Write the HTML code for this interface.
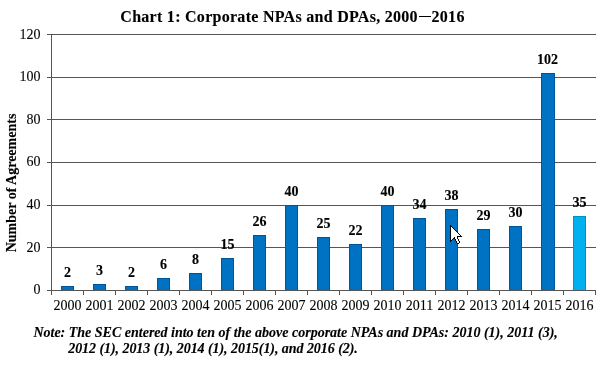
<!DOCTYPE html><html><head><meta charset="utf-8"><style>
html,body{margin:0;padding:0;background:#fff;width:600px;height:365px;overflow:hidden;position:relative}
.t{position:absolute;font-family:"Liberation Serif",serif;white-space:nowrap;line-height:14px;height:14px;color:#000;filter:grayscale(1)}
.c{width:200px;text-align:center}
.r{-webkit-text-stroke:0.1px #000}
.b{font-weight:bold;-webkit-text-stroke:0.12px #000}
svg{position:absolute;left:0;top:0}
</style></head><body>
<svg width="600" height="365" viewBox="0 0 600 365" shape-rendering="crispEdges">
<rect x="47" y="34" width="549" height="1" fill="#555555"/>
<rect x="47" y="77" width="549" height="1" fill="#555555"/>
<rect x="47" y="119" width="549" height="1" fill="#555555"/>
<rect x="47" y="162" width="549" height="1" fill="#555555"/>
<rect x="47" y="205" width="549" height="1" fill="#555555"/>
<rect x="47" y="247" width="549" height="1" fill="#555555"/>
<rect x="61" y="286" width="13" height="4" fill="#00559a"/>
<rect x="62" y="287" width="11" height="3" fill="#0072c4"/>
<rect x="93" y="284" width="13" height="6" fill="#00559a"/>
<rect x="94" y="285" width="11" height="5" fill="#0072c4"/>
<rect x="125" y="286" width="13" height="4" fill="#00559a"/>
<rect x="126" y="287" width="11" height="3" fill="#0072c4"/>
<rect x="157" y="278" width="13" height="12" fill="#00559a"/>
<rect x="158" y="279" width="11" height="11" fill="#0072c4"/>
<rect x="189" y="273" width="13" height="17" fill="#00559a"/>
<rect x="190" y="274" width="11" height="16" fill="#0072c4"/>
<rect x="221" y="258" width="13" height="32" fill="#00559a"/>
<rect x="222" y="259" width="11" height="31" fill="#0072c4"/>
<rect x="253" y="235" width="13" height="55" fill="#00559a"/>
<rect x="254" y="236" width="11" height="54" fill="#0072c4"/>
<rect x="285" y="205" width="13" height="85" fill="#00559a"/>
<rect x="286" y="206" width="11" height="84" fill="#0072c4"/>
<rect x="317" y="237" width="13" height="53" fill="#00559a"/>
<rect x="318" y="238" width="11" height="52" fill="#0072c4"/>
<rect x="349" y="244" width="13" height="46" fill="#00559a"/>
<rect x="350" y="245" width="11" height="45" fill="#0072c4"/>
<rect x="381" y="205" width="13" height="85" fill="#00559a"/>
<rect x="382" y="206" width="11" height="84" fill="#0072c4"/>
<rect x="413" y="218" width="13" height="72" fill="#00559a"/>
<rect x="414" y="219" width="11" height="71" fill="#0072c4"/>
<rect x="445" y="209" width="13" height="81" fill="#00559a"/>
<rect x="446" y="210" width="11" height="80" fill="#0072c4"/>
<rect x="477" y="229" width="13" height="61" fill="#00559a"/>
<rect x="478" y="230" width="11" height="60" fill="#0072c4"/>
<rect x="509" y="226" width="13" height="64" fill="#00559a"/>
<rect x="510" y="227" width="11" height="63" fill="#0072c4"/>
<rect x="541" y="73" width="14" height="217" fill="#00559a"/>
<rect x="542" y="74" width="12" height="216" fill="#0072c4"/>
<rect x="573" y="216" width="13" height="74" fill="#0090c8"/>
<rect x="574" y="217" width="11" height="73" fill="#00b0f0"/>
<rect x="47" y="290" width="549" height="1" fill="#555555"/>
<rect x="51" y="34" width="1" height="261" fill="#555555"/>
<rect x="83" y="291" width="1" height="4" fill="#555555"/>
<rect x="115" y="291" width="1" height="4" fill="#555555"/>
<rect x="147" y="291" width="1" height="4" fill="#555555"/>
<rect x="179" y="291" width="1" height="4" fill="#555555"/>
<rect x="211" y="291" width="1" height="4" fill="#555555"/>
<rect x="243" y="291" width="1" height="4" fill="#555555"/>
<rect x="275" y="291" width="1" height="4" fill="#555555"/>
<rect x="307" y="291" width="1" height="4" fill="#555555"/>
<rect x="339" y="291" width="1" height="4" fill="#555555"/>
<rect x="371" y="291" width="1" height="4" fill="#555555"/>
<rect x="403" y="291" width="1" height="4" fill="#555555"/>
<rect x="435" y="291" width="1" height="4" fill="#555555"/>
<rect x="467" y="291" width="1" height="4" fill="#555555"/>
<rect x="499" y="291" width="1" height="4" fill="#555555"/>
<rect x="531" y="291" width="1" height="4" fill="#555555"/>
<rect x="563" y="291" width="1" height="4" fill="#555555"/>
<rect x="595" y="291" width="1" height="4" fill="#555555"/>
<rect x="450" y="225" width="1" height="1" fill="#000"/>
<rect x="450" y="226" width="1" height="1" fill="#000"/>
<rect x="451" y="226" width="1" height="1" fill="#000"/>
<rect x="450" y="227" width="1" height="1" fill="#000"/>
<rect x="451" y="227" width="1" height="1" fill="#fff"/>
<rect x="452" y="227" width="1" height="1" fill="#000"/>
<rect x="450" y="228" width="1" height="1" fill="#000"/>
<rect x="451" y="228" width="1" height="1" fill="#fff"/>
<rect x="452" y="228" width="1" height="1" fill="#fff"/>
<rect x="453" y="228" width="1" height="1" fill="#000"/>
<rect x="450" y="229" width="1" height="1" fill="#000"/>
<rect x="451" y="229" width="1" height="1" fill="#fff"/>
<rect x="452" y="229" width="1" height="1" fill="#fff"/>
<rect x="453" y="229" width="1" height="1" fill="#fff"/>
<rect x="454" y="229" width="1" height="1" fill="#000"/>
<rect x="450" y="230" width="1" height="1" fill="#000"/>
<rect x="451" y="230" width="1" height="1" fill="#fff"/>
<rect x="452" y="230" width="1" height="1" fill="#fff"/>
<rect x="453" y="230" width="1" height="1" fill="#fff"/>
<rect x="454" y="230" width="1" height="1" fill="#fff"/>
<rect x="455" y="230" width="1" height="1" fill="#000"/>
<rect x="450" y="231" width="1" height="1" fill="#000"/>
<rect x="451" y="231" width="1" height="1" fill="#fff"/>
<rect x="452" y="231" width="1" height="1" fill="#fff"/>
<rect x="453" y="231" width="1" height="1" fill="#fff"/>
<rect x="454" y="231" width="1" height="1" fill="#fff"/>
<rect x="455" y="231" width="1" height="1" fill="#fff"/>
<rect x="456" y="231" width="1" height="1" fill="#000"/>
<rect x="450" y="232" width="1" height="1" fill="#000"/>
<rect x="451" y="232" width="1" height="1" fill="#fff"/>
<rect x="452" y="232" width="1" height="1" fill="#fff"/>
<rect x="453" y="232" width="1" height="1" fill="#fff"/>
<rect x="454" y="232" width="1" height="1" fill="#fff"/>
<rect x="455" y="232" width="1" height="1" fill="#fff"/>
<rect x="456" y="232" width="1" height="1" fill="#fff"/>
<rect x="457" y="232" width="1" height="1" fill="#000"/>
<rect x="450" y="233" width="1" height="1" fill="#000"/>
<rect x="451" y="233" width="1" height="1" fill="#fff"/>
<rect x="452" y="233" width="1" height="1" fill="#fff"/>
<rect x="453" y="233" width="1" height="1" fill="#fff"/>
<rect x="454" y="233" width="1" height="1" fill="#fff"/>
<rect x="455" y="233" width="1" height="1" fill="#fff"/>
<rect x="456" y="233" width="1" height="1" fill="#fff"/>
<rect x="457" y="233" width="1" height="1" fill="#fff"/>
<rect x="458" y="233" width="1" height="1" fill="#000"/>
<rect x="450" y="234" width="1" height="1" fill="#000"/>
<rect x="451" y="234" width="1" height="1" fill="#fff"/>
<rect x="452" y="234" width="1" height="1" fill="#fff"/>
<rect x="453" y="234" width="1" height="1" fill="#fff"/>
<rect x="454" y="234" width="1" height="1" fill="#fff"/>
<rect x="455" y="234" width="1" height="1" fill="#fff"/>
<rect x="456" y="234" width="1" height="1" fill="#fff"/>
<rect x="457" y="234" width="1" height="1" fill="#fff"/>
<rect x="458" y="234" width="1" height="1" fill="#fff"/>
<rect x="459" y="234" width="1" height="1" fill="#000"/>
<rect x="450" y="235" width="1" height="1" fill="#000"/>
<rect x="451" y="235" width="1" height="1" fill="#fff"/>
<rect x="452" y="235" width="1" height="1" fill="#fff"/>
<rect x="453" y="235" width="1" height="1" fill="#fff"/>
<rect x="454" y="235" width="1" height="1" fill="#fff"/>
<rect x="455" y="235" width="1" height="1" fill="#fff"/>
<rect x="456" y="235" width="1" height="1" fill="#fff"/>
<rect x="457" y="235" width="1" height="1" fill="#fff"/>
<rect x="458" y="235" width="1" height="1" fill="#fff"/>
<rect x="459" y="235" width="1" height="1" fill="#fff"/>
<rect x="460" y="235" width="1" height="1" fill="#000"/>
<rect x="450" y="236" width="1" height="1" fill="#000"/>
<rect x="451" y="236" width="1" height="1" fill="#fff"/>
<rect x="452" y="236" width="1" height="1" fill="#fff"/>
<rect x="453" y="236" width="1" height="1" fill="#fff"/>
<rect x="454" y="236" width="1" height="1" fill="#fff"/>
<rect x="455" y="236" width="1" height="1" fill="#fff"/>
<rect x="456" y="236" width="1" height="1" fill="#fff"/>
<rect x="457" y="236" width="1" height="1" fill="#000"/>
<rect x="458" y="236" width="1" height="1" fill="#000"/>
<rect x="459" y="236" width="1" height="1" fill="#000"/>
<rect x="460" y="236" width="1" height="1" fill="#000"/>
<rect x="461" y="236" width="1" height="1" fill="#000"/>
<rect x="450" y="237" width="1" height="1" fill="#000"/>
<rect x="451" y="237" width="1" height="1" fill="#fff"/>
<rect x="452" y="237" width="1" height="1" fill="#fff"/>
<rect x="453" y="237" width="1" height="1" fill="#fff"/>
<rect x="454" y="237" width="1" height="1" fill="#000"/>
<rect x="455" y="237" width="1" height="1" fill="#fff"/>
<rect x="456" y="237" width="1" height="1" fill="#fff"/>
<rect x="457" y="237" width="1" height="1" fill="#000"/>
<rect x="450" y="238" width="1" height="1" fill="#000"/>
<rect x="451" y="238" width="1" height="1" fill="#fff"/>
<rect x="452" y="238" width="1" height="1" fill="#fff"/>
<rect x="453" y="238" width="1" height="1" fill="#000"/>
<rect x="454" y="238" width="1" height="1" fill="#000"/>
<rect x="455" y="238" width="1" height="1" fill="#fff"/>
<rect x="456" y="238" width="1" height="1" fill="#fff"/>
<rect x="457" y="238" width="1" height="1" fill="#000"/>
<rect x="450" y="239" width="1" height="1" fill="#000"/>
<rect x="451" y="239" width="1" height="1" fill="#fff"/>
<rect x="452" y="239" width="1" height="1" fill="#000"/>
<rect x="455" y="239" width="1" height="1" fill="#000"/>
<rect x="456" y="239" width="1" height="1" fill="#fff"/>
<rect x="457" y="239" width="1" height="1" fill="#fff"/>
<rect x="458" y="239" width="1" height="1" fill="#000"/>
<rect x="450" y="240" width="1" height="1" fill="#000"/>
<rect x="451" y="240" width="1" height="1" fill="#000"/>
<rect x="455" y="240" width="1" height="1" fill="#000"/>
<rect x="456" y="240" width="1" height="1" fill="#fff"/>
<rect x="457" y="240" width="1" height="1" fill="#fff"/>
<rect x="458" y="240" width="1" height="1" fill="#000"/>
<rect x="450" y="241" width="1" height="1" fill="#000"/>
<rect x="456" y="241" width="1" height="1" fill="#000"/>
<rect x="457" y="241" width="1" height="1" fill="#fff"/>
<rect x="458" y="241" width="1" height="1" fill="#fff"/>
<rect x="459" y="241" width="1" height="1" fill="#000"/>
<rect x="456" y="242" width="1" height="1" fill="#000"/>
<rect x="457" y="242" width="1" height="1" fill="#fff"/>
<rect x="458" y="242" width="1" height="1" fill="#fff"/>
<rect x="459" y="242" width="1" height="1" fill="#000"/>
<rect x="457" y="243" width="1" height="1" fill="#000"/>
<rect x="458" y="243" width="1" height="1" fill="#000"/>
</svg>
<div class="t b" style="left:120.3px;top:10px;font-size:16px;letter-spacing:0.28px">Chart 1: Corporate NPAs and DPAs, 2000</div>
<div style="position:absolute;left:418.6px;top:15.9px;width:12.8px;height:1.2px;background:#000"></div>
<div class="t b" style="left:431.5px;top:10px;font-size:16px;letter-spacing:0.3px">2016</div>
<div class="t r" style="right:559.50px;top:283px;font-size:14px;">0</div>
<div class="t r" style="right:559.50px;top:241px;font-size:14px;">20</div>
<div class="t r" style="right:559.50px;top:198px;font-size:14px;">40</div>
<div class="t r" style="right:559.50px;top:155px;font-size:14px;">60</div>
<div class="t r" style="right:559.50px;top:113px;font-size:14px;">80</div>
<div class="t r" style="right:559.50px;top:70px;font-size:14px;">100</div>
<div class="t r" style="right:559.50px;top:28px;font-size:14px;">120</div>
<div class="t r c" style="left:-32.50px;top:299px;font-size:14px;">2000</div>
<div class="t b c" style="left:-32.50px;top:266px;font-size:14px;">2</div>
<div class="t r c" style="left:-0.50px;top:299px;font-size:14px;">2001</div>
<div class="t b c" style="left:-0.50px;top:264px;font-size:14px;">3</div>
<div class="t r c" style="left:31.50px;top:299px;font-size:14px;">2002</div>
<div class="t b c" style="left:31.50px;top:266px;font-size:14px;">2</div>
<div class="t r c" style="left:63.50px;top:299px;font-size:14px;">2003</div>
<div class="t b c" style="left:63.50px;top:258px;font-size:14px;">6</div>
<div class="t r c" style="left:95.50px;top:299px;font-size:14px;">2004</div>
<div class="t b c" style="left:95.50px;top:253px;font-size:14px;">8</div>
<div class="t r c" style="left:127.50px;top:299px;font-size:14px;">2005</div>
<div class="t b c" style="left:127.50px;top:238px;font-size:14px;">15</div>
<div class="t r c" style="left:159.50px;top:299px;font-size:14px;">2006</div>
<div class="t b c" style="left:159.50px;top:215px;font-size:14px;">26</div>
<div class="t r c" style="left:191.50px;top:299px;font-size:14px;">2007</div>
<div class="t b c" style="left:191.50px;top:185px;font-size:14px;">40</div>
<div class="t r c" style="left:223.50px;top:299px;font-size:14px;">2008</div>
<div class="t b c" style="left:223.50px;top:217px;font-size:14px;">25</div>
<div class="t r c" style="left:255.50px;top:299px;font-size:14px;">2009</div>
<div class="t b c" style="left:255.50px;top:224px;font-size:14px;">22</div>
<div class="t r c" style="left:287.50px;top:299px;font-size:14px;">2010</div>
<div class="t b c" style="left:287.50px;top:185px;font-size:14px;">40</div>
<div class="t r c" style="left:319.50px;top:299px;font-size:14px;">2011</div>
<div class="t b c" style="left:319.50px;top:198px;font-size:14px;">34</div>
<div class="t r c" style="left:351.50px;top:299px;font-size:14px;">2012</div>
<div class="t b c" style="left:351.50px;top:189px;font-size:14px;">38</div>
<div class="t r c" style="left:383.50px;top:299px;font-size:14px;">2013</div>
<div class="t b c" style="left:383.50px;top:209px;font-size:14px;">29</div>
<div class="t r c" style="left:415.50px;top:299px;font-size:14px;">2014</div>
<div class="t b c" style="left:415.50px;top:206px;font-size:14px;">30</div>
<div class="t r c" style="left:447.50px;top:299px;font-size:14px;">2015</div>
<div class="t b c" style="left:447.50px;top:53px;font-size:14px;">102</div>
<div class="t r c" style="left:479.50px;top:299px;font-size:14px;">2016</div>
<div class="t b c" style="left:479.50px;top:196px;font-size:14px;">35</div>
<div class="t b" style="left:-287.62px;top:175.75px;width:600px;text-align:center;transform:rotate(-90deg);transform-origin:300px 7px;font-size:14px">Number of Agreements</div>
<div class="t b" style="left:33.40px;top:326px;font-size:14px;font-style:italic;">Note: The SEC entered into ten of the above corporate NPAs and DPAs: 2010 (1), 2011 (3),</div>
<div class="t b" style="left:68.20px;top:342px;font-size:14px;font-style:italic;letter-spacing:-0.055px;">2012 (1), 2013 (1), 2014 (1), 2015(1), and 2016 (2).</div>
</body></html>
